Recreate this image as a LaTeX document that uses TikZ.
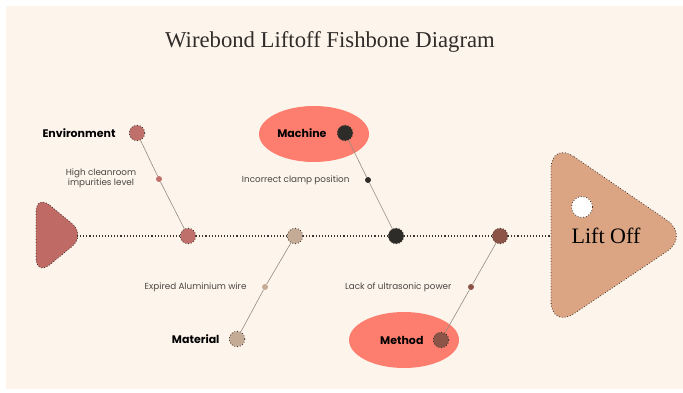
\documentclass[tikz,border=0pt]{standalone}
\usepackage{fontspec}
\usetikzlibrary{shapes.geometric}
\setmainfont{Liberation Serif}
\setsansfont{Poppins}
\begin{document}
\begin{tikzpicture}[x=1pt,y=-1pt,
  bonedot/.style={circle,draw=inkdark,dotted,line width=0.8pt,minimum size=15.5pt,inner sep=0pt},
  smalldot/.style={circle,minimum size=6pt,inner sep=0pt},
  causetext/.style={font=\sffamily\fontsize{8.8}{10}\selectfont,text=inkgray,align=center},
  cattext/.style={font=\sffamily\bfseries\fontsize{11}{13}\selectfont,text=black},
  spine/.style={draw=inkdark,dotted,line width=1.1pt},
  bone/.style={draw=bonegray,line width=0.6pt},
  fishpart/.style={draw=inkdark,dotted,line width=0.8pt},
  highlight/.style={ellipse,fill=salmon,minimum width=110pt,minimum height=56pt,inner sep=0pt}
]
\definecolor{paper}{HTML}{FDF5EC}
\definecolor{inkdark}{HTML}{3A3330}
\definecolor{inkgray}{HTML}{4A4542}
\definecolor{titleink}{HTML}{302C29}
\definecolor{bonegray}{HTML}{958A82}
\definecolor{envred}{HTML}{C0706A}
\definecolor{mattan}{HTML}{C4AB96}
\definecolor{machdark}{HTML}{2E2C29}
\definecolor{methbrown}{HTML}{8B5446}
\definecolor{salmon}{HTML}{FD7E6E}
\definecolor{headtan}{HTML}{DBA584}
\definecolor{tailred}{HTML}{C06A66}

% page and card
\useasboundingbox (0,0) rectangle (683,393);
\fill[white] (0,0) rectangle (683,393);
\fill[paper] (6,6) rectangle (683,389);

% title
\node[font=\fontsize{22.7}{26}\selectfont,text=titleink] (title) at (330,42) {Wirebond Liftoff Fishbone Diagram};

% highlight ellipses behind Machine and Method
\node[highlight] (machbg) at (314,134) {};
\node[highlight] (methbg) at (404,340) {};

% tail and head of the fish
\draw[fishpart,fill=tailred,rounded corners=18pt] (36,194) -- (86,235) -- (36,276) -- cycle;
\coordinate (tailtip) at (77,236);
\draw[fishpart,fill=headtan,rounded corners=28pt] (551,141) -- (690,236) -- (551,329) -- cycle;
\coordinate (headin) at (551,236);
\node[circle,fill=white,draw=inkdark,dotted,line width=0.8pt,minimum size=21pt,inner sep=0pt] (eye) at (582,207) {};
\node[font=\fontsize{22}{26}\selectfont,text=black] (effect) at (606,236) {Lift Off};

% spine joints
\node[bonedot,fill=envred] (jenv) at (188,236) {};
\node[bonedot,fill=mattan] (jmat) at (295,236) {};
\node[bonedot,fill=machdark] (jmach) at (396,236) {};
\node[bonedot,fill=methbrown] (jmeth) at (500,236) {};

% spine
\draw[spine] (tailtip) -- (jenv) -- (jmat) -- (jmach) -- (jmeth) -- (headin);

% category ends
\node[bonedot,fill=envred] (cenv) at (137,133) {};
\node[bonedot,fill=machdark] (cmach) at (345,133) {};
\node[bonedot,fill=mattan] (cmat) at (237,339) {};
\node[bonedot,fill=methbrown] (cmeth) at (441,340) {};

% cause dots
\node[smalldot,fill=envred] (denv) at (159,179) {};
\node[smalldot,fill=machdark] (dmach) at (368,180) {};
\node[smalldot,fill=mattan] (dmat) at (265,287) {};
\node[smalldot,fill=methbrown] (dmeth) at (471,287) {};

% bones
\draw[bone] (cenv) -- (denv) -- (jenv);
\draw[bone] (cmach) -- (dmach) -- (jmach);
\draw[bone] (cmat) -- (dmat) -- (jmat);
\draw[bone] (cmeth) -- (dmeth) -- (jmeth);

% category labels
\node[cattext,anchor=east] (lenv) at (119,133) {Environment};
\node[cattext,anchor=east] (lmach) at (330,133) {Machine};
\node[cattext,anchor=east] (lmat) at (223,339) {Material};
\node[cattext,anchor=east] (lmeth) at (427,340) {Method};

% cause labels
\node[causetext] (tenv) at (101,178) {High cleanroom\\impurities level};
\node[causetext,anchor=east] (tmach) at (353,180) {Incorrect clamp position};
\node[causetext,anchor=east] (tmat) at (250,287) {Expired Aluminium wire};
\node[causetext,anchor=east] (tmeth) at (455,287) {Lack of ultrasonic power};
\end{tikzpicture}
\end{document}
